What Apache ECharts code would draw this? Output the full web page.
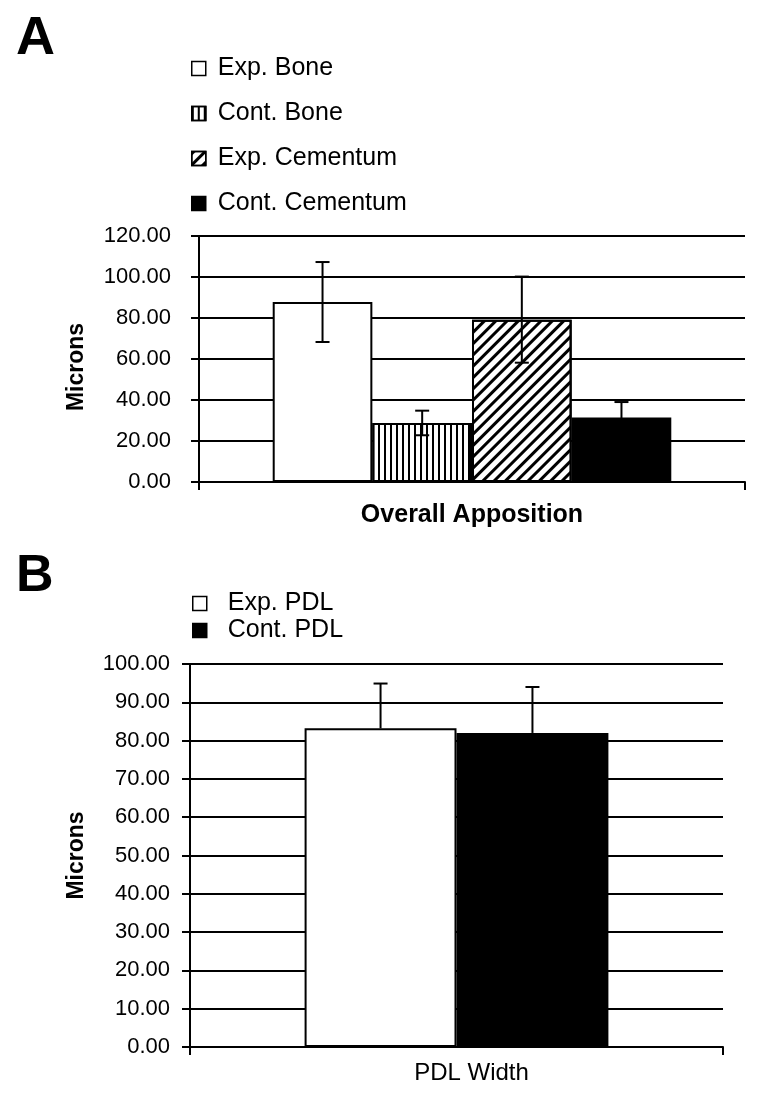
<!DOCTYPE html>
<html><head><meta charset="utf-8">
<script src="https://cdn.jsdelivr.net/npm/echarts@6/dist/echarts.min.js"></script>
<style>html,body{margin:0;padding:0;background:#fff}#c{width:759px;height:1095px}</style>
</head><body><div id="c"></div>
<script>
// ---- data ----
const catA = ['Overall Apposition'];
const seriesA = ['Exp. Bone', 'Cont. Bone', 'Exp. Cementum', 'Cont. Cementum'];
const meanA = [87.8, 28.8, 79.2, 31.5];
const errA = [19.5, 6.0, 21.0, 7.5];
const yMinA = 0, yMaxA = 120, yStepA = 20;

const catB = ['PDL Width'];
const seriesB = ['Exp. PDL', 'Cont. PDL'];
const meanB = [83.2, 82.0];
const errB = [11.7, 12.0];
const yMinB = 0, yMaxB = 100, yStepB = 10;

// ---- styles ----
const FONT = '"Liberation Sans", Arial, Helvetica, sans-serif';
const BLACK = '#000';
const vStripe = { symbol: 'rect', symbolSize: 1, color: BLACK, dashArrayX: [2, 4], dashArrayY: [10, 0], rotation: 0 };
const dStripe = { symbol: 'rect', symbolSize: 1, color: BLACK, dashArrayX: [3, 5], dashArrayY: [10, 0], rotation: Math.PI / 4 };
const fillsA = ['#fff', '#fff', '#fff', BLACK];
const decalsA = [null, vStripe, dStripe, null];
const fillsB = ['#fff', BLACK];
const GAP_A = '27%', GAP_B = '43%';

function errRenderer(count, gap, upOnly) {
  return function (params, api) {
    const i = api.value(3), m = api.value(1), e = api.value(2);
    let off;
    if (api.barLayout) {
      const lay = api.barLayout({ count: count, barGap: '0%', barCategoryGap: gap });
      off = lay[i].offsetCenter != null ? lay[i].offsetCenter : lay[i].offset + lay[i].width / 2;
    } else {
      const bw = api.size([1, 0])[0];
      const w = bw * (1 - parseFloat(gap) / 100) / count;
      off = -w * count / 2 + (i + 0.5) * w;
    }
    const c = api.coord([0, m]);
    const cx = c[0] + off;
    const yTop = api.coord([0, m + e])[1];
    const yBot = upOnly ? c[1] : api.coord([0, m - e])[1];
    const cap = 7;
    const st = { stroke: BLACK, lineWidth: 2 };
    const ch = [
      { type: 'line', shape: { x1: cx, y1: yTop, x2: cx, y2: yBot }, style: st },
      { type: 'line', shape: { x1: cx - cap, y1: yTop, x2: cx + cap, y2: yTop }, style: st }
    ];
    if (!upOnly) ch.push({ type: 'line', shape: { x1: cx - cap, y1: yBot, x2: cx + cap, y2: yBot }, style: st });
    return { type: 'group', children: ch };
  };
}

function yAxis(gridIndex, min, max, step, margin, nameGap, namePad) {
  return {
    type: 'value', gridIndex, min, max, interval: step,
    name: 'Microns', nameLocation: 'middle', nameRotate: 90, nameGap,
    nameTextStyle: { fontFamily: FONT, fontSize: 23, fontWeight: 'bold', color: BLACK, padding: namePad },
    axisLine: { show: true, lineStyle: { color: BLACK, width: 2 } },
    axisTick: { show: true, length: 8, lineStyle: { color: BLACK, width: 2 } },
    splitLine: { show: true, lineStyle: { color: BLACK, width: 2 } },
    axisLabel: { formatter: v => v.toFixed(2), fontFamily: FONT, fontSize: 22, color: BLACK, margin }
  };
}
function xAxis(gridIndex, data, bold, fontSize, margin, pad) {
  return {
    type: 'category', gridIndex, data,
    axisLine: { show: true, lineStyle: { color: BLACK, width: 2 } },
    axisTick: { show: true, length: 8, lineStyle: { color: BLACK, width: 2 } },
    axisLabel: { fontFamily: FONT, fontSize, fontWeight: bold ? 'bold' : 'normal', color: BLACK, margin, padding: pad }
  };
}

const series = [];
seriesA.forEach((name, i) => {
  const itemStyle = { color: fillsA[i], borderColor: BLACK, borderWidth: 2 };
  if (decalsA[i]) itemStyle.decal = decalsA[i];
  series.push({
    type: 'bar', name, xAxisIndex: 0, yAxisIndex: 0, data: [meanA[i]],
    barGap: '0%', barCategoryGap: GAP_A, silent: true, itemStyle
  });
});
series.push({
  type: 'custom', xAxisIndex: 0, yAxisIndex: 0, silent: true, z: 5,
  data: meanA.map((m, i) => [0, m, errA[i], i]), encode: { x: 0, y: 1 },
  renderItem: errRenderer(seriesA.length, GAP_A, false)
});
seriesB.forEach((name, i) => series.push({
  type: 'bar', name, xAxisIndex: 1, yAxisIndex: 1, data: [meanB[i]],
  barGap: '0%', barCategoryGap: GAP_B, silent: true,
  itemStyle: { color: fillsB[i], borderColor: BLACK, borderWidth: 2 }
}));
series.push({
  type: 'custom', xAxisIndex: 1, yAxisIndex: 1, silent: true, z: 5,
  data: meanB.map((m, i) => [0, m, errB[i], i]), encode: { x: 0, y: 1 },
  renderItem: errRenderer(seriesB.length, GAP_B, true)
});

const legendCommon = {
  orient: 'vertical', icon: 'rect', itemWidth: 14, itemHeight: 14, padding: 0,
  itemStyle: { borderColor: BLACK, borderWidth: 1.5 },
  selectedMode: false
};

const chart = echarts.init(document.getElementById('c'), null, { renderer: 'canvas' });
chart.setOption({
  animation: false,
  backgroundColor: '#fff',
  grid: [
    { left: 199, right: 14, top: 236, height: 246, outerBoundsMode: 'none' },
    { left: 190, right: 36, top: 664, height: 383, outerBoundsMode: 'none' }
  ],
  xAxis: [xAxis(0, catA, true, 25, 21, [0, 0, 0, 0]), xAxis(1, catB, false, 24, 14, [0, 0, 0, 30])],
  yAxis: [yAxis(0, yMinA, yMaxA, yStepA, 28, 111, [0, 16, 0, 0]), yAxis(1, yMinB, yMaxB, yStepB, 20, 102, [0, 0, 0, 0])],
  legend: [
    Object.assign({}, legendCommon, {
      data: seriesA, left: 191, top: 56, itemGap: 20,
      textStyle: { fontFamily: FONT, fontSize: 25, color: BLACK, lineHeight: 24, padding: [0, 0, 0, 7] }
    }),
    Object.assign({}, legendCommon, {
      data: seriesB, left: 192, top: 591, itemGap: 2,
      textStyle: { fontFamily: FONT, fontSize: 25, color: BLACK, lineHeight: 24, padding: [0, 0, 0, 16] }
    })
  ],
  graphic: [
    { type: 'text', left: 16, top: 12, style: { text: 'A', font: 'bold 54px ' + FONT, fill: BLACK } },
    { type: 'text', left: 16, top: 551, style: { text: 'B', font: 'bold 52px ' + FONT, fill: BLACK } }
  ],
  series
});
</script>
</body></html>
